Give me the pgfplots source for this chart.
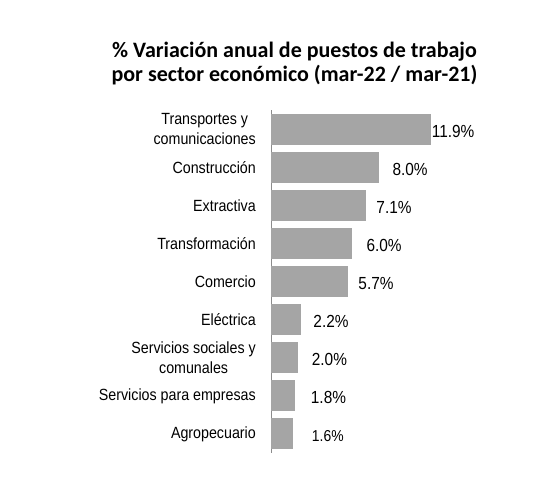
\documentclass[border=0pt]{standalone}
\usepackage{pgfplots}
\pgfplotsset{compat=1.18}
\usepackage{fontspec}
\setmainfont{Liberation Sans}
\newfontfamily\labfont[FakeStretch=0.88]{Liberation Sans}
\newfontfamily\titfont{Carlito}
\definecolor{bargray}{HTML}{A5A5A5}
\definecolor{axisgray}{HTML}{8C8C8C}

\pgfplotsset{
  barra/.style 2 args={fill=bargray, draw=none, bar shift=0pt,
    nodes near coords style={xshift=#1pt,
      font=\labfont\fontsize{#2}{#2}\selectfont}},
}

\begin{document}
\begin{tikzpicture}[x=1pt,y=1pt]
\path[use as bounding box] (0,0) rectangle (553,501);
\node[anchor=base, font=\titfont\bfseries\fontsize{22}{24}\selectfont]
  at (294.5,443.5) {\% Variación anual de puestos de trabajo};
\node[anchor=base, font=\titfont\bfseries\fontsize{22}{24}\selectfont]
  at (294.5,419) {por sector económico (mar-22 / mar-21)};
\begin{axis}[
    at={(271pt,48pt)}, anchor=south west,
    scale only axis, width=188.3pt, height=343pt,
    xmin=0, xmax=14, ymin=-0.5, ymax=8.5, y dir=reverse,
    xbar, bar width=31pt,
    axis x line=none, axis y line*=left,
    y axis line style={draw=axisgray, line width=1pt},
    xtick=\empty, ytick={0,...,8}, major tick length=0pt,
    yticklabels={{Transportes y\\comunicaciones}, Construcción, Extractiva,
      Transformación, Comercio, Eléctrica, {Servicios sociales y\\comunales},
      Servicios para empresas, Agropecuario},
    yticklabel style={align=center, inner sep=0pt, xshift=-15pt,
      font=\labfont\fontsize{16.2}{19.5}\selectfont},
    point meta=x,
    nodes near coords={\pgfmathprintnumber[fixed,fixed zerofill,precision=1,assume math mode=true]{\pgfplotspointmeta}\%},
    every node near coord/.append style={anchor=west, inner sep=0pt, yshift=-2pt},
]
\addplot[barra={0.6}{17.5}] coordinates {(11.9,0)};
\addplot[barra={13.7}{17.5}] coordinates {(8.0,1)};
\addplot[barra={9.8}{17.5}] coordinates {(7.1,2)};
\addplot[barra={14.6}{17.5}] coordinates {(6.0,3)};
\addplot[barra={10.6}{17.5}] coordinates {(5.7,4)};
\addplot[barra={12.7}{17.5}] coordinates {(2.2,5)};
\addplot[barra={13.8}{17.5}] coordinates {(2.0,6)};
\addplot[barra={15.5}{17.5}] coordinates {(1.8,7)};
\addplot[barra={19.2}{15.8}] coordinates {(1.6,8)};
\end{axis}
\end{tikzpicture}
\end{document}
